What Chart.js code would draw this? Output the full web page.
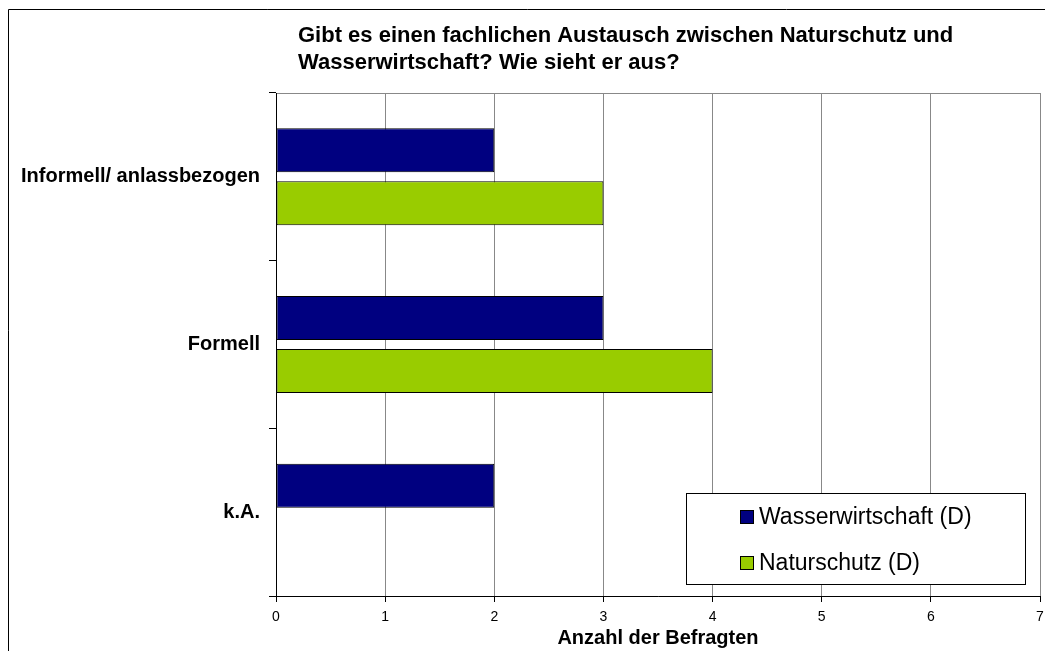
<!DOCTYPE html>
<html>
<head>
<meta charset="utf-8">
<script src="https://cdn.jsdelivr.net/npm/chart.js@4"></script>
<style>
  html, body { margin: 0; padding: 0; background: #fff; }
  #wrap { width: 1045px; height: 651px; }
</style>
</head>
<body>
<div id="wrap"><canvas id="chart" width="1045" height="651"></canvas></div>
<script>
const categories = ['Informell/ anlassbezogen', 'Formell', 'k.A.'];
const wasserwirtschaft = [2, 3, 2];
const naturschutz = [3, 4, 0];
const xTicks = [0, 1, 2, 3, 4, 5, 6, 7];
const titleLines = ['Gibt es einen fachlichen Austausch zwischen Naturschutz und', 'Wasserwirtschaft? Wie sieht er aus?'];
const xTitle = 'Anzahl der Befragten';

const FONT = '"Liberation Sans", Arial, sans-serif';

// frame, plot border, title and legend box
const decor = {
    id: 'decor',
    beforeDraw(chart) {
        const ctx = chart.ctx;
        const a = chart.chartArea;
        ctx.save();
        ctx.strokeStyle = '#000';
        ctx.lineWidth = 1;
        ctx.beginPath();
        ctx.moveTo(8.5, 660);
        ctx.lineTo(8.5, 9.5);
        ctx.lineTo(1060, 9.5);
        ctx.stroke();

        ctx.strokeStyle = '#888';
        ctx.strokeRect(a.left + 0.5, a.top + 0.5, a.right - a.left, a.bottom - a.top);

        ctx.fillStyle = '#000';
        ctx.font = 'bold 22px ' + FONT;
        ctx.textBaseline = 'middle';
        ctx.textAlign = 'left';
        titleLines.forEach((t, i) => ctx.fillText(t, 298, 36 + i * 27));
        ctx.restore();
    },
    afterDraw(chart) {
        const ctx = chart.ctx;
        const x0 = 686.5, y0 = 493.5, w = 339, h = 91;
        ctx.save();
        ctx.fillStyle = '#fff';
        ctx.fillRect(x0, y0, w, h);
        ctx.strokeStyle = '#000';
        ctx.lineWidth = 1;
        ctx.strokeRect(x0, y0, w, h);
        ctx.font = '23px ' + FONT;
        ctx.textBaseline = 'middle';
        ctx.textAlign = 'left';
        chart.data.datasets.forEach((ds, i) => {
            const cy = 517 + i * 46;
            ctx.fillStyle = ds.backgroundColor;
            ctx.fillRect(740, cy - 7, 14, 14);
            ctx.strokeStyle = '#000';
            ctx.strokeRect(740.5, cy - 6.5, 13, 13);
            ctx.fillStyle = '#000';
            ctx.fillText(ds.label, 759, cy + 1);
        });
        ctx.restore();
    }
};

new Chart(document.getElementById('chart'), {
    type: 'bar',
    data: {
        labels: categories,
        datasets: [{
            label: 'Wasserwirtschaft (D)',
            data: wasserwirtschaft,
            backgroundColor: '#000080',
            borderColor: '#000',
            borderWidth: 1,
            borderSkipped: false
        }, {
            label: 'Naturschutz (D)',
            data: naturschutz,
            backgroundColor: '#99cc00',
            borderColor: '#000',
            borderWidth: c => (c.raw === 0 ? 0 : 1),
            borderSkipped: false
        }]
    },
    options: {
        indexAxis: 'y',
        responsive: false,
        animation: false,
        categoryPercentage: 0.632,
        barPercentage: 0.83,
        layout: { padding: { top: 93, right: 5, left: 0, bottom: 0 } },
        plugins: {
            legend: { display: false },
            title: { display: false },
            tooltip: { enabled: false }
        },
        scales: {
            x: {
                min: 0,
                max: 7,
                afterFit: s => { s.height = 55; s.paddingLeft = 0; s.paddingRight = 0; },
                afterBuildTicks: s => { s.ticks = xTicks.map(v => ({ value: v })); },
                grid: { color: '#888', tickColor: '#000', tickLength: 6 },
                border: { color: '#000' },
                ticks: { color: '#000', padding: 7, maxRotation: 0, font: { family: FONT, size: 14 } },
                title: {
                    display: true,
                    text: xTitle,
                    color: '#000',
                    padding: { top: 0, bottom: 1 },
                    font: { family: FONT, size: 20, weight: 'bold' }
                }
            },
            y: {
                afterFit: s => { s.width = 276; },
                grid: { drawOnChartArea: false, tickColor: '#000', tickLength: 7, offset: true },
                border: { color: '#000' },
                ticks: { color: '#000', padding: 9, font: { family: FONT, size: 20, weight: 'bold' } }
            }
        }
    },
    plugins: [decor]
});
</script>
</body>
</html>
